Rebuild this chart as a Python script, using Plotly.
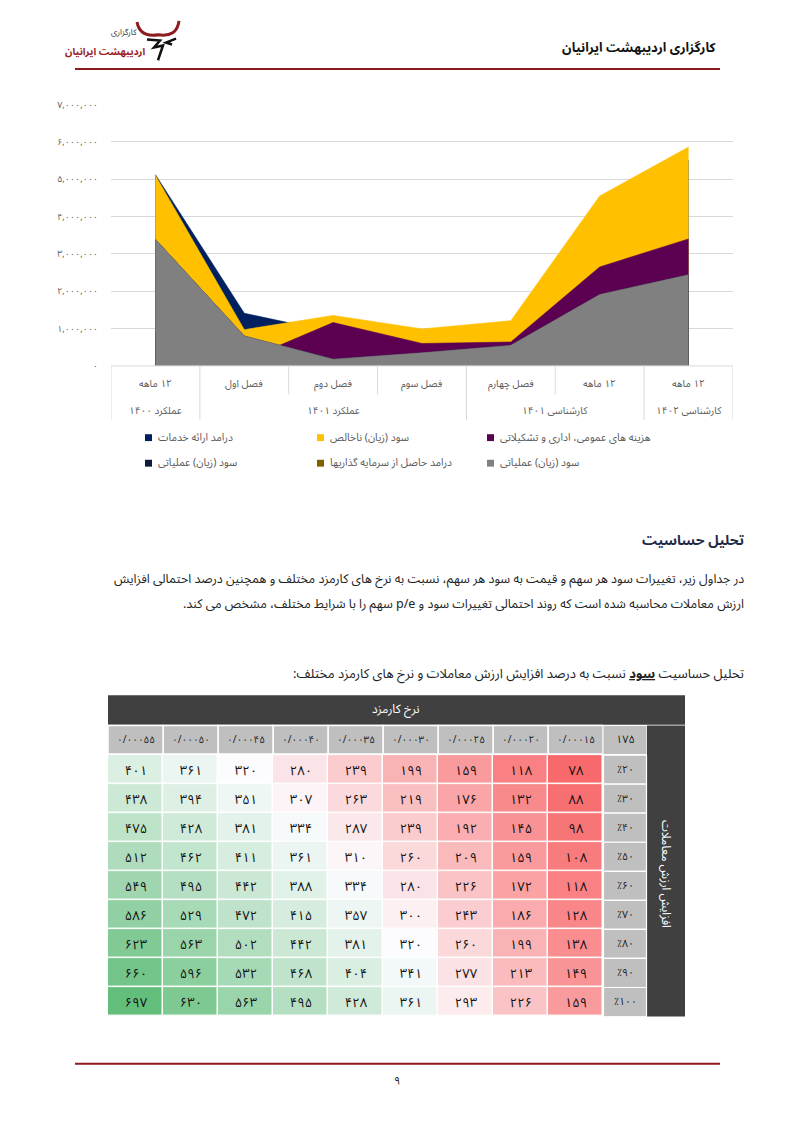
import numpy as np
import plotly.graph_objects as go

PAGE_W, PAGE_H = 793, 1122
OFF = 8  # default body margin of the page
W, H = PAGE_W - 2 * OFF, PAGE_H - 2 * OFF
FONT = "Noto Sans Arabic, DejaVu Sans, sans-serif"
FA = str.maketrans("0123456789", "۰۱۲۳۴۵۶۷۸۹")


def fa(v):
    return str(v).translate(FA)


def rtl(s):
    return "\u202b" + s + "\u202c"


def px(x):
    return (x - OFF) / W


def py(y):
    return 1 - (y - OFF) / H


# ---------------- chart data ----------------
categories = ["۱۲ ماهه", "فصل اول", "فصل دوم", "فصل سوم", "فصل چهارم", "۱۲ ماهه", "۱۲ ماهه"]
group_labels = ["عملکرد ۱۴۰۰", "عملکرد ۱۴۰۱", "کارشناسی ۱۴۰۱", "کارشناسی ۱۴۰۲"]
group_first = [0, 1, 4, 6]
group_last = [0, 3, 5, 6]

service_revenue = [5120000, 1410000, 900000, 850000, 1050000, 4200000, 5500000]
gross_profit = [5100000, 970000, 1350000, 990000, 1210000, 4550000, 5860000]
admin_expenses = [900000, 150000, 1160000, 600000, 640000, 2650000, 3400000]
investment_income = [60000, 20000, 30000, 40000, 50000, 80000, 90000]
operating_profit_b = [3390000, 800000, 180000, 350000, 550000, 1910000, 2440000]
operating_profit = [3390000, 800000, 180000, 350000, 550000, 1910000, 2440000]

y_tick_vals = [0, 1000000, 2000000, 3000000, 4000000, 5000000, 6000000, 7000000]
y_tick_text = ["۰", "۱,۰۰۰,۰۰۰", "۲,۰۰۰,۰۰۰", "۳,۰۰۰,۰۰۰", "۴,۰۰۰,۰۰۰",
               "۵,۰۰۰,۰۰۰", "۶,۰۰۰,۰۰۰", "۷,۰۰۰,۰۰۰"]

series_names = ["درامد ارائه خدمات", "سود (زیان) ناخالص", "هزینه های عمومی، اداری و تشکیلاتی",
                "درامد حاصل از سرمایه گذاریها", "سود (زیان) عملیاتی", "سود (زیان) عملیاتی"]
series_colors = ["#002060", "#FFC000", "#5C0052", "#806000", "#0C1A3C", "#808080"]
series_values = [service_revenue, gross_profit, admin_expenses, investment_income,
                 operating_profit_b, operating_profit]
# legend grid position (row, column from left)
legend_row = [0, 0, 0, 1, 1, 1]
legend_col = [0, 1, 2, 1, 0, 2]

# ---------------- table data ----------------
fee_rates = ["0/00015", "0/00020", "0/00025", "0/00030", "0/00035",
             "0/00040", "0/00045", "0/00050", "0/00055"]
growth = [20, 30, 40, 50, 60, 70, 80, 90, 100]
corner_label = "175"
eps = [
    [78, 118, 159, 199, 239, 280, 320, 361, 401],
    [88, 132, 176, 219, 263, 307, 351, 394, 438],
    [98, 145, 192, 239, 287, 334, 381, 428, 475],
    [108, 159, 209, 260, 310, 361, 411, 462, 512],
    [118, 172, 226, 280, 334, 388, 442, 495, 549],
    [128, 186, 243, 300, 357, 415, 472, 529, 586],
    [138, 199, 260, 320, 381, 442, 502, 563, 623],
    [149, 213, 277, 341, 404, 468, 532, 596, 660],
    [159, 226, 293, 361, 428, 495, 563, 630, 697],
]

fig = go.Figure()

# ---------- area chart ----------
xs = list(range(len(categories)))
for name, col, vals in zip(series_names, series_colors, series_values):
    fig.add_trace(go.Scatter(
        x=xs, y=vals, mode="lines", fill="tozeroy", fillcolor=col,
        line=dict(color=col, width=0.6), name=name, showlegend=False,
        xaxis="x", yaxis="y", hoverinfo="skip"))

CH_L, CH_R, CH_T, CH_B = 111, 733, 97, 363

# ---------- heatmap ----------
z = np.array(eps, dtype=float)
zmin, zmax, zmed = z.min(), z.max(), float(np.median(z))
mid = (zmed - zmin) / (zmax - zmin)
text = [[fa(v) for v in row] for row in eps]
fig.add_trace(go.Heatmap(
    z=eps, x=list(range(len(fee_rates))), y=list(range(len(growth))),
    text=text, texttemplate="%{text}",
    textfont=dict(family=FONT, size=13, color="#111111"),
    colorscale=[[0, "#F8696B"], [mid, "#FCFCFF"], [1, "#63BE7B"]],
    zmin=zmin, zmax=zmax, showscale=False, xgap=1.5, ygap=1.5,
    xaxis="x2", yaxis="y2", hoverinfo="skip"))

TB_L, TB_R, TB_T, TB_B = 108, 603, 759, 1025

shapes = []
ann = []


def add_text(x, y, s, size=10, color="#222222", anchor="center", bold=False, angle=0):
    if bold:
        s = "<b>" + s + "</b>"
    ann.append(dict(x=px(x), y=py(y), xref="paper", yref="paper", text=s,
                    showarrow=False, xanchor=anchor, yanchor="middle", textangle=angle,
                    font=dict(family=FONT, size=size, color=color)))


def rect(x0, y0, x1, y1, fill, line=None, lw=0):
    shapes.append(dict(type="rect", xref="paper", yref="paper", x0=px(x0), x1=px(x1),
                       y0=py(y0), y1=py(y1), fillcolor=fill,
                       line=dict(color=line or fill, width=lw), layer="above"))


def hline(x0, x1, y, color, w):
    shapes.append(dict(type="line", xref="paper", yref="paper", x0=px(x0), x1=px(x1),
                       y0=py(y), y1=py(y), line=dict(color=color, width=w)))


# ---------- header / footer ----------
RED = "#8E1B20"
hline(75, 720, 61, RED, 2)
hline(75, 720, 1073, RED, 2)
add_text(718, 40, rtl("کارگزاری اردیبهشت ایرانیان"), size=13, color="#111111", anchor="right", bold=True)
add_text(397, 1090, "۹", size=11, color="#222222")

# logo (approximate)
shapes.append(dict(type="path", xref="paper", yref="paper",
                   path="M %f,%f Q %f,%f %f,%f Q %f,%f %f,%f" % (
                       px(137), py(13), px(140), py(29), px(158), py(26),
                       px(177), py(29), px(179), py(12)),
                   line=dict(color=RED, width=3)))
shapes.append(dict(type="path", xref="paper", yref="paper",
                   path="M %f,%f L %f,%f L %f,%f L %f,%f L %f,%f" % (
                       px(147), py(31), px(160), py(32), px(154), py(39),
                       px(163), py(37), px(158), py(52)),
                   line=dict(color="#111111", width=2.5)))
shapes.append(dict(type="path", xref="paper", yref="paper",
                   path="M %f,%f L %f,%f L %f,%f" % (
                       px(176), py(30), px(166), py(34), px(172), py(36)),
                   line=dict(color="#111111", width=2.5)))
add_text(124, 24, rtl("کارگزاری"), size=8, color="#333333")
add_text(105, 43, rtl("<b>اردیبهشت ایرانیان</b>"), size=10, color="#9A1C22")

# ---------- chart category table ----------
hline(CH_L, CH_R, CH_B, "#D9D9D9", 1)
for k in range(len(categories) + 1):
    full = (k in group_first) or k == len(categories)
    shapes.append(dict(type="line", xref="x", yref="paper", x0=k - 0.5, x1=k - 0.5,
                       y0=py(CH_B), y1=py(418 if full else 392),
                       line=dict(color="#D9D9D9", width=1)))
for i, c in enumerate(categories):
    ann.append(dict(x=i, y=py(381), xref="x", yref="paper", text=rtl(c), showarrow=False,
                    xanchor="center", yanchor="middle",
                    font=dict(family=FONT, size=10, color="#595959")))
for g, a, b in zip(group_labels, group_first, group_last):
    ann.append(dict(x=(a + b) / 2, y=py(408), xref="x", yref="paper", text=rtl(g),
                    showarrow=False, xanchor="center", yanchor="middle",
                    font=dict(family=FONT, size=10, color="#595959")))

# ---------- custom legend ----------
leg_x = [145, 317, 487]
leg_y = [436, 462]
for name, col, r, c in zip(series_names, series_colors, legend_row, legend_col):
    x0 = leg_x[c]
    y0 = leg_y[r]
    rect(x0, y0 - 3.5, x0 + 7, y0 + 3.5, col)
    add_text(x0 + 11, y0, rtl(name), size=10.5, color="#595959", anchor="left")

# ---------- text section ----------
add_text(746, 541, rtl("تحلیل حساسیت"), size=14, color="#1F2A48", anchor="right", bold=True)
add_text(746, 580, rtl("در جداول زیر، تغییرات سود هر سهم و قیمت به سود هر سهم، نسبت به نرخ های کارمزد مختلف و همچنین درصد احتمالی افزایش"),
         size=12.5, color="#222222", anchor="right")
add_text(746, 605, rtl("ارزش معاملات محاسبه شده است که روند احتمالی تغییرات سود و p/e سهم را با شرایط مختلف، مشخص می کند."),
         size=12.5, color="#222222", anchor="right")
add_text(746, 676, rtl("تحلیل حساسیت <b><span style='text-decoration:underline'>سود</span></b> نسبت به درصد افزایش ارزش معاملات و نرخ های کارمزد مختلف:"),
         size=13, color="#222222", anchor="right")

# ---------- table headers ----------
DARK = "#404040"
GRAY = "#BFBFBF"
rect(108, 698, 685, 728, DARK)
add_text(396, 713, rtl("نرخ کارمزد"), size=12, color="#FFFFFF")
rect(647, 729, 685, 1025, DARK)
add_text(666, 880, rtl("افزایش ارزش معاملات"), size=12, color="#FFFFFF", angle=90)
# column headers
for i, f in enumerate(fee_rates):
    shapes.append(dict(type="rect", xref="x2", yref="paper", x0=i - 0.5, x1=i + 0.5,
                       y0=py(758), y1=py(729), fillcolor=GRAY,
                       line=dict(color="#FFFFFF", width=1.5)))
    ann.append(dict(x=i, y=py(743.5), xref="x2", yref="paper", text=fa(f), showarrow=False,
                    xanchor="center", yanchor="middle",
                    font=dict(family=FONT, size=10, color="#222222")))
rect(603.5, 729.5, 646.5, 758, GRAY)
add_text(625, 743.5, fa(corner_label), size=11, color="#222222")
# row headers
for j, g in enumerate(growth):
    shapes.append(dict(type="rect", xref="paper", yref="y2", x0=px(603.5), x1=px(646.5),
                       y0=j - 0.5, y1=j + 0.5, fillcolor=GRAY,
                       line=dict(color="#FFFFFF", width=1.2)))
    ann.append(dict(x=px(625), y=j, xref="paper", yref="y2", text="٪" + fa(g), showarrow=False,
                    xanchor="center", yanchor="middle",
                    font=dict(family=FONT, size=10.5, color="#222222")))

fig.update_layout(
    width=W, height=H, margin=dict(l=0, r=0, t=0, b=0),
    paper_bgcolor="white", plot_bgcolor="white", showlegend=False,
    font=dict(family=FONT),
    xaxis=dict(domain=[px(CH_L), px(CH_R)], range=[-0.5, 6.5], showticklabels=False,
               showgrid=False, zeroline=False, showline=False, fixedrange=True),
    yaxis=dict(domain=[py(CH_B), py(CH_T)], range=[0, 7000000], tickvals=y_tick_vals,
               ticktext=y_tick_text, showgrid=True, gridcolor="#D9D9D9", gridwidth=1,
               zeroline=False, showline=False, ticks="", ticklabelstandoff=12,
               tickfont=dict(family=FONT, size=9, color="#595959")),
    xaxis2=dict(domain=[px(TB_L), px(TB_R)], range=[len(fee_rates) - 0.5, -0.5],
                showticklabels=False, showgrid=False, zeroline=False, anchor="y2"),
    yaxis2=dict(domain=[py(TB_B), py(TB_T)], range=[len(growth) - 0.5, -0.5],
                showticklabels=False, showgrid=False, zeroline=False, anchor="x2"),
    shapes=shapes, annotations=ann,
)

fig.write_html("out.html", config={"displayModeBar": False})
